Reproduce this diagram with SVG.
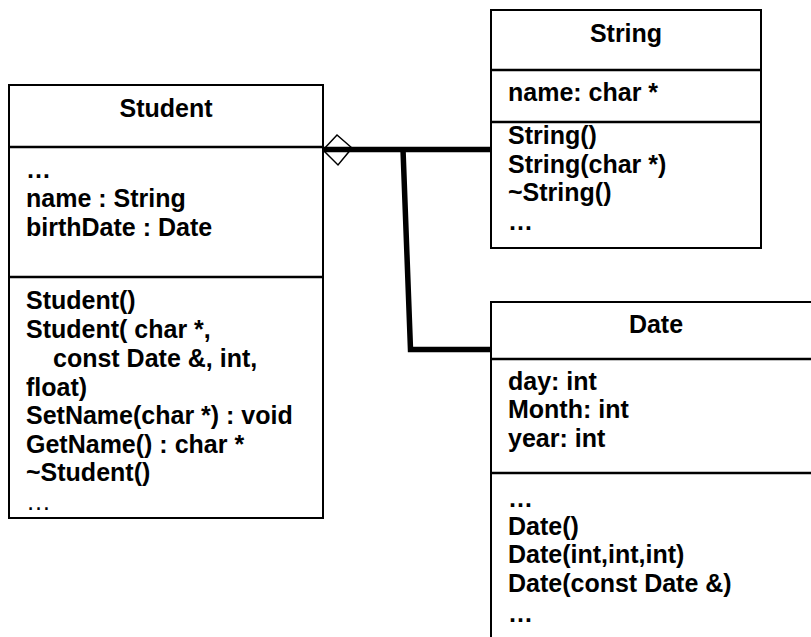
<svg xmlns="http://www.w3.org/2000/svg" width="811" height="637" viewBox="0 0 811 637">
<style>
.box{fill:#fff;stroke:#000;stroke-width:2}
.div{stroke:#000;stroke-width:2.5}
text{font-family:"Liberation Sans",Arial,sans-serif;font-size:25px;font-weight:bold;fill:#000}
.t{text-anchor:middle}
.conn{fill:none;stroke:#000;stroke-width:5.5}
</style>
<rect width="811" height="637" fill="#fff"/>
<g id="student">
<rect class="box" x="9" y="85" width="314" height="433"/>
<line class="div" x1="9" y1="147" x2="323" y2="147"/>
<line class="div" x1="9" y1="277" x2="323" y2="277"/>
<text class="t" x="166" y="117">Student</text>
<text x="26" y="178">…</text>
<text x="26" y="207">name : String</text>
<text x="26" y="236">birthDate : Date</text>
<text x="26" y="309">Student()</text>
<text x="26" y="338">Student( char *,</text>
<text x="53" y="367">const Date &amp;, int,</text>
<text x="26" y="396">float)</text>
<text x="26" y="424">SetName(char *) : void</text>
<text x="26" y="453">GetName() : char *</text>
<text x="26" y="481">~Student()</text>
<text x="26" y="510" style="font-weight:normal">…</text>
</g>
<g id="string">
<rect class="box" x="491" y="10" width="270" height="238"/>
<line class="div" x1="491" y1="70" x2="761" y2="70"/>
<line class="div" x1="491" y1="122" x2="761" y2="122"/>
<text class="t" x="626" y="42">String</text>
<text x="508" y="101">name: char *</text>
<text x="508" y="144">String()</text>
<text x="508" y="173">String(char *)</text>
<text x="508" y="201">~String()</text>
<text x="508" y="230">…</text>
</g>
<g id="date">
<rect class="box" x="491" y="302" width="330" height="345"/>
<line class="div" x1="491" y1="359" x2="821" y2="359"/>
<line class="div" x1="491" y1="473" x2="821" y2="473"/>
<text class="t" x="656" y="333">Date</text>
<text x="508" y="390">day: int</text>
<text x="508" y="418">Month: int</text>
<text x="508" y="447">year: int</text>
<text x="508" y="507">…</text>
<text x="508" y="535">Date()</text>
<text x="508" y="563">Date(int,int,int)</text>
<text x="508" y="592">Date(const Date &amp;)</text>
<text x="508" y="622">…</text>
</g>
<g id="connectors">
<polygon points="323,150 337,135 352,148 338,165" fill="#fff" stroke="#000" stroke-width="1.5"/>
<line class="conn" x1="324" y1="149.5" x2="490" y2="149.5"/>
<polyline class="conn" points="403,149.5 410.5,349.5 490,349.5"/>
</g>
</svg>
